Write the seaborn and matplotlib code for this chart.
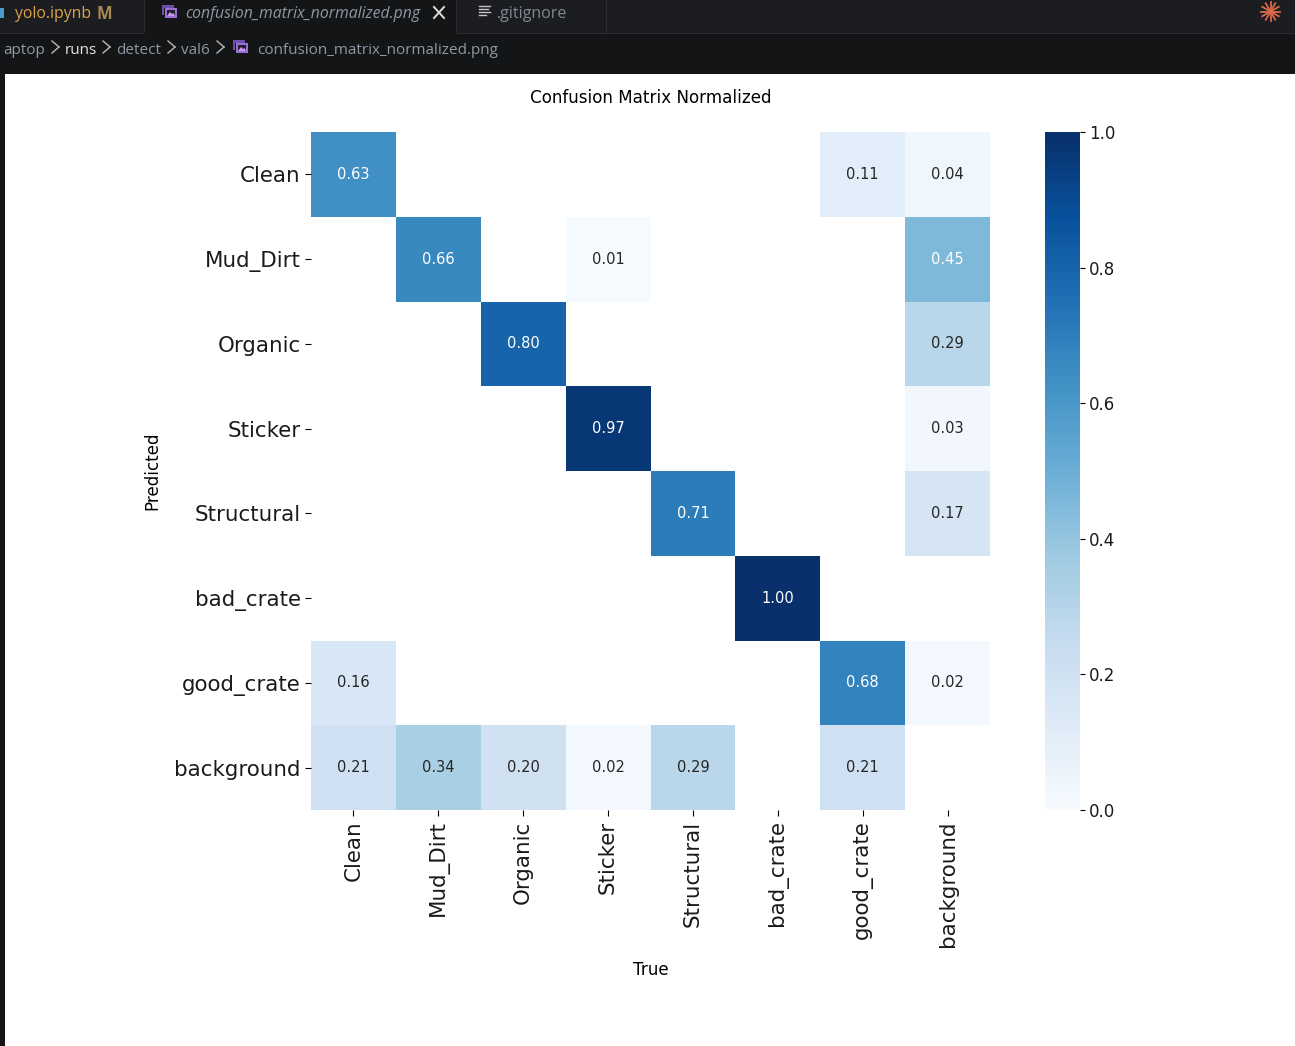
# -*- coding: utf-8 -*-
import numpy as np
import pandas as pd

import matplotlib
matplotlib.use("Agg")
import matplotlib.pyplot as plt
from matplotlib.patches import Rectangle, Polygon
from matplotlib.lines import Line2D
import seaborn as sns

W, H = 1295, 1046

classes = ["Clean", "Mud_Dirt", "Organic", "Sticker", "Structural",
           "bad_crate", "good_crate", "background"]

# one row per predicted class, nan = empty cell
row_clean = [0.63, np.nan, np.nan, np.nan, np.nan, np.nan, 0.11, 0.04]
row_mud = [np.nan, 0.66, np.nan, 0.01, np.nan, np.nan, np.nan, 0.45]
row_organic = [np.nan, np.nan, 0.80, np.nan, np.nan, np.nan, np.nan, 0.29]
row_sticker = [np.nan, np.nan, np.nan, 0.97, np.nan, np.nan, np.nan, 0.03]
row_structural = [np.nan, np.nan, np.nan, np.nan, 0.71, np.nan, np.nan, 0.17]
row_bad = [np.nan, np.nan, np.nan, np.nan, np.nan, 1.00, np.nan, np.nan]
row_good = [0.16, np.nan, np.nan, np.nan, np.nan, np.nan, 0.68, 0.02]
row_background = [0.21, 0.34, 0.20, 0.02, 0.29, np.nan, 0.21, np.nan]

df = pd.DataFrame([row_clean, row_mud, row_organic, row_sticker, row_structural,
                   row_bad, row_good, row_background],
                  index=classes, columns=classes)


def box(x0, y0, x1, y1):
    # pixel box (from top left) to figure fractions
    return [x0 / W, 1 - y1 / H, (x1 - x0) / W, (y1 - y0) / H]


def ui_rect(fig, x0, y0, x1, y1, color):
    l, b, w, h = box(x0, y0, x1, y1)
    fig.add_artist(Rectangle((l, b), w, h, transform=fig.transFigure,
                             facecolor=color, edgecolor="none"))


def ui_text(fig, x, y, s, color, size=11.5, **kw):
    fig.text(x / W, 1 - (y + 2) / H, s, color=color, fontsize=size, va="center",
             family="Open Sans", **kw)


def ui_line(fig, x0, y0, x1, y1, color, lw=1.2):
    fig.add_artist(Line2D([x0 / W, x1 / W], [1 - y0 / H, 1 - y1 / H],
                          color=color, lw=lw, transform=fig.transFigure))


def image_icon(fig, x, y):
    # small picture glyph: back frame, dark inside, light hills
    ui_rect(fig, x, y, x + 12, y + 3, "#6f4fa8")
    ui_rect(fig, x, y, x + 2, y + 10, "#6f4fa8")
    ui_rect(fig, x + 3, y + 3, x + 15, y + 13, "#9a6fd6")
    ui_rect(fig, x + 5, y + 5, x + 13, y + 11, "#22202c")
    pts = [(x + 5, y + 11), (x + 8, y + 7), (x + 10, y + 9), (x + 11.5, y + 8), (x + 13, y + 11)]
    fig.add_artist(Polygon([(a / W, 1 - b / H) for a, b in pts], closed=True,
                           transform=fig.transFigure, facecolor="#c39cf0", edgecolor="none"))


fig = plt.figure(figsize=(W / 100, H / 100), dpi=100, facecolor="white")
ax = fig.add_axes(box(311, 132, 990, 810))
cax = fig.add_axes(box(1045, 132, 1080, 810))

sns.heatmap(df, ax=ax, cbar_ax=cax, cmap="Blues", vmin=0.0, vmax=1.0,
            annot=True, fmt=".2f", annot_kws={"size": 10.5}, square=False,
            xticklabels=classes, yticklabels=classes)

# reference has white text on this one
for t in ax.texts:
    if t.get_text() == "0.45":
        t.set_color("white")

ax.set_title("Confusion Matrix Normalized", fontsize=12.1, pad=21)
ax.set_xlabel("True", fontsize=12.1, labelpad=10)
ax.set_ylabel("Predicted", fontsize=12.1, labelpad=9.5)
ax.tick_params(axis="x", labelsize=15.4, labelrotation=90, length=4, labelcolor="#1a1a1a")
ax.tick_params(axis="y", labelsize=15.4, labelrotation=0, length=4, labelcolor="#1a1a1a")
for lab in ax.get_yticklabels():
    lab.set_verticalalignment("center_baseline")
cax.tick_params(labelsize=12, length=3.5, pad=3, labelcolor="#1a1a1a")
cax.set_yticks([0.0, 0.2, 0.4, 0.6, 0.8, 1.0])

# editor chrome around the screenshot
ui_rect(fig, 0, 0, W, 33, "#1c1d20")
ui_rect(fig, 0, 33, W, 74, "#141517")
ui_rect(fig, 0, 33, W, 34, "#2b2c2e")
ui_rect(fig, 0, 74, 5, H, "#141517")
ui_rect(fig, 144, 0, 457, 34, "#141517")
ui_rect(fig, 144, 0, 145, 33, "#2b2c2e")
ui_rect(fig, 456, 0, 457, 33, "#2b2c2e")
ui_rect(fig, 606, 0, 607, 33, "#2b2c2e")

ui_rect(fig, 0, 8, 4, 18, "#4a9cc9")
ui_text(fig, 15, 12, "yolo.ipynb", "#dfa24a", size=11.3)
ui_text(fig, 96, 12, "M", "#a8894f", weight="bold", size=12)
image_icon(fig, 162, 5)
ui_text(fig, 185, 12, "confusion_matrix_normalized.png", "#8e98a4", size=11.35, style="italic")
ui_line(fig, 434, 7, 444, 18, "#dcdcdc", lw=1.4)
ui_line(fig, 434, 18, 444, 7, "#dcdcdc", lw=1.4)
for yy, xe in [(6, 490), (9, 488), (12, 490), (15, 486)]:
    ui_line(fig, 479, yy, xe, yy, "#c5c5c5", lw=1)
ui_text(fig, 497, 12, ".gitignore", "#7f8790")

ui_text(fig, 3, 48, "aptop", "#8e98a4", size=11)
ui_text(fig, 65, 48, "runs", "#e4e4e4", size=11)
ui_text(fig, 116, 48, "detect", "#8e98a4", size=11)
ui_text(fig, 181, 48, "val6", "#8e98a4", size=11)
ui_text(fig, 257, 48, "confusion_matrix_normalized.png", "#8e98a4", size=11)
for xc in [52, 103, 168, 217]:
    ui_line(fig, xc, 41, xc + 7, 47, "#b8b8b8", lw=1)
    ui_line(fig, xc + 7, 47, xc, 53, "#b8b8b8", lw=1)
image_icon(fig, 233, 40)

# orange burst, top right
for ang in np.deg2rad(np.arange(0, 360, 30)):
    ui_line(fig, 1270.5, 11.5, 1270.5 + 9.5 * np.cos(ang), 11.5 + 9.5 * np.sin(ang),
            "#d9694a", lw=1.3)

fig.savefig("out.png", dpi=100)
